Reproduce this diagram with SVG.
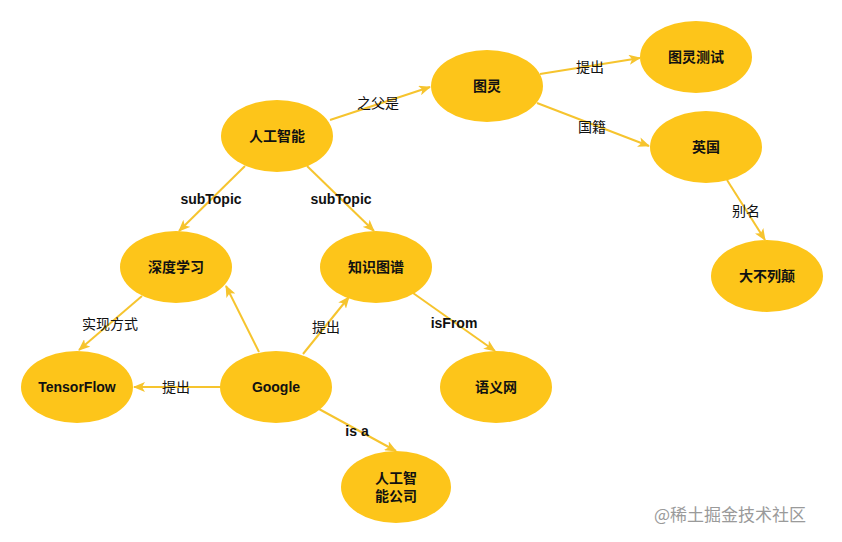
<svg xmlns="http://www.w3.org/2000/svg" width="842" height="542" viewBox="0 0 842 542">
<style>
.node ellipse{fill:#FDC51A;}
.node text{font-family:"Liberation Sans","Noto Sans CJK SC",sans-serif;font-size:14px;font-weight:bold;fill:#111;text-anchor:middle;dominant-baseline:central;}
.edges line{stroke:#F6C42E;stroke-width:2;marker-end:url(#arr);}
.lbl{font-family:"Liberation Sans","Noto Sans CJK SC",sans-serif;font-size:14px;fill:#111;text-anchor:middle;dominant-baseline:central;}
.lbl.en{font-weight:bold;}
.wm{font-family:"Noto Sans CJK SC",sans-serif;font-size:17px;fill:#9a9a9a;text-anchor:end;}
</style>
<defs>
<marker id="arr" viewBox="0 0 12 10" refX="11" refY="5" markerWidth="12" markerHeight="10" markerUnits="userSpaceOnUse" orient="auto">
<path d="M0,0 L12,5 L0,10 L3,5 z" fill="#F6C42E"/>
</marker>
</defs>
<rect width="842" height="542" fill="#fff"/>
<g class="edges">
<line x1="330" y1="120" x2="430" y2="87"/>
<line x1="540" y1="74" x2="640" y2="58"/>
<line x1="537" y1="103" x2="649" y2="146"/>
<line x1="727" y1="180" x2="765" y2="240"/>
<line x1="245" y1="166" x2="179" y2="231"/>
<line x1="307" y1="166" x2="374" y2="231"/>
<line x1="142" y1="296" x2="79" y2="350"/>
<line x1="259" y1="352" x2="226" y2="286"/>
<line x1="303" y1="354" x2="349" y2="297"/>
<line x1="413" y1="293" x2="495" y2="351"/>
<line x1="221" y1="387" x2="134" y2="387"/>
<line x1="319" y1="409" x2="396" y2="451"/>
<text class="lbl" x="378" y="103">之父是</text>
<text class="lbl" x="590" y="67">提出</text>
<text class="lbl" x="592" y="127">国籍</text>
<text class="lbl" x="746" y="211">别名</text>
<text class="lbl en" x="211" y="199">subTopic</text>
<text class="lbl en" x="341" y="199">subTopic</text>
<text class="lbl" x="110" y="324">实现方式</text>
<text class="lbl" x="326" y="327">提出</text>
<text class="lbl en" x="454" y="323">isFrom</text>
<text class="lbl" x="176" y="387">提出</text>
<text class="lbl en" x="357" y="431">is a</text>
</g>
<g id="n-ai" class="node"><ellipse cx="277" cy="136" rx="56" ry="36"/><text x="277" y="136">人工智能</text></g>
<g id="n-turing" class="node"><ellipse cx="487" cy="86" rx="56" ry="36"/><text x="487" y="86">图灵</text></g>
<g id="n-turingtest" class="node"><ellipse cx="696" cy="57" rx="56" ry="36"/><text x="696" y="57">图灵测试</text></g>
<g id="n-uk" class="node"><ellipse cx="706" cy="147" rx="56" ry="36"/><text x="706" y="147">英国</text></g>
<g id="n-gb" class="node"><ellipse cx="767" cy="276" rx="56" ry="36"/><text x="767" y="276">大不列颠</text></g>
<g id="n-dl" class="node"><ellipse cx="176" cy="267" rx="56" ry="36"/><text x="176" y="267">深度学习</text></g>
<g id="n-kg" class="node"><ellipse cx="376" cy="267" rx="56" ry="36"/><text x="376" y="267">知识图谱</text></g>
<g id="n-tf" class="node"><ellipse cx="77" cy="387" rx="56" ry="36"/><text x="77" y="387">TensorFlow</text></g>
<g id="n-google" class="node"><ellipse cx="276" cy="387" rx="56" ry="36"/><text x="276" y="387">Google</text></g>
<g id="n-sw" class="node"><ellipse cx="496" cy="387" rx="56" ry="36"/><text x="496" y="387">语义网</text></g>
<g id="n-aico" class="node"><ellipse cx="396" cy="487" rx="55" ry="36"/><text x="396" y="478">人工智</text><text x="396" y="496">能公司</text></g>
<text class="wm" x="806" y="521">@稀土掘金技术社区</text>
</svg>
